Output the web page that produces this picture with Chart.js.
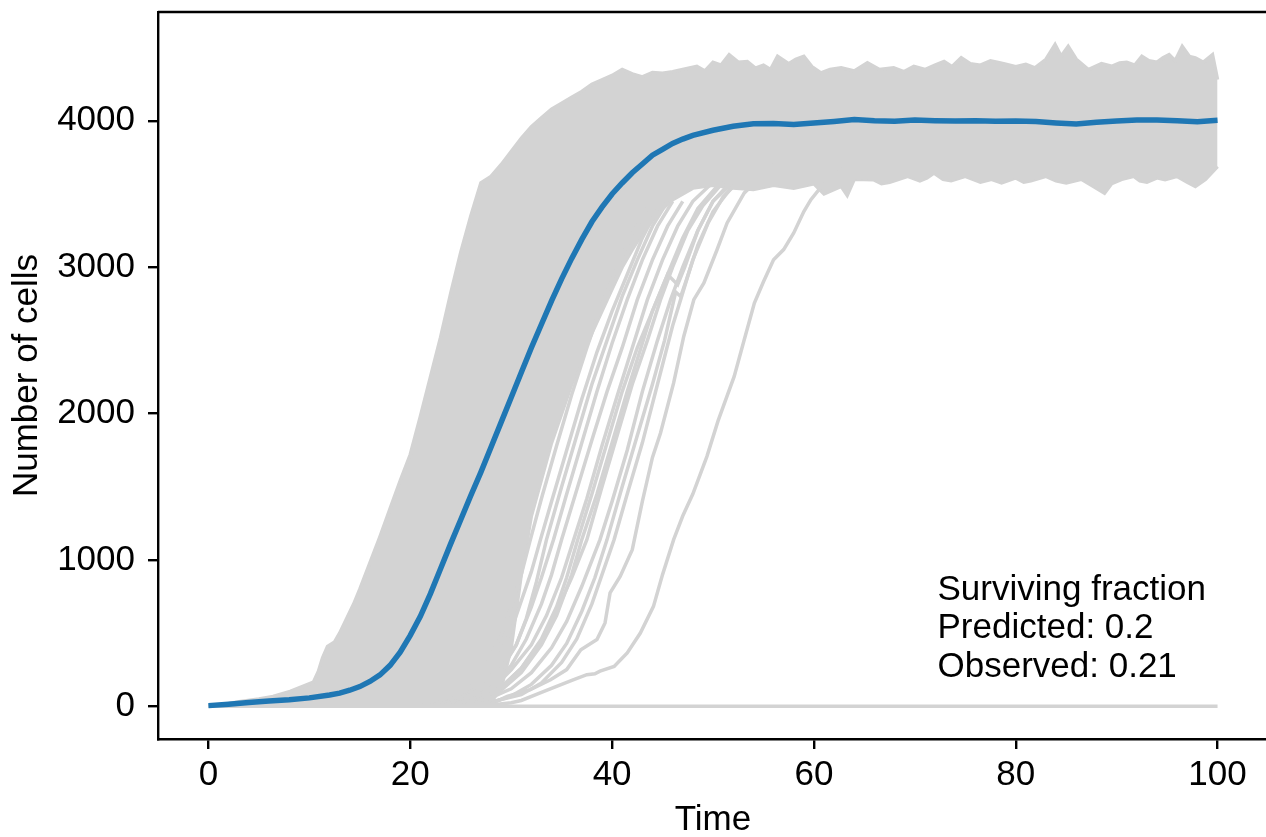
<!DOCTYPE html>
<html>
<head>
<meta charset="utf-8">
<script src="https://cdn.jsdelivr.net/npm/chart.js@4.4.1/dist/chart.umd.min.js"></script>
<style>
  html, body { margin: 0; padding: 0; background: #fff; overflow: hidden; }
  #wrap { position: absolute; left: 0; top: 0; width: 1280px; height: 837px; }
</style>
</head>
<body>
<div id="wrap"><canvas id="chart"></canvas></div>
<script>
// Ticks
const xTicks = [0, 20, 40, 60, 80, 100];
const yTicks = [0, 1000, 2000, 3000, 4000];

// Mean of surviving runs (blue)
const meanT = [0, 2, 4, 6, 8, 10, 12, 13, 14, 15, 16, 17, 18, 19, 20, 21, 22, 23, 24, 25, 26, 27, 28, 29, 30,
  31, 32, 33, 34, 35, 36, 37, 38, 39, 40, 41, 42, 43, 44, 45, 46, 47, 48, 50, 52, 54, 56, 58, 60, 62, 64,
  66, 68, 70, 72, 74, 76, 78, 80, 82, 84, 86, 88, 90, 92, 94, 96, 98, 100];
const meanCells = [5, 15, 27, 36, 45, 58, 78, 90, 110, 135, 170, 215, 280, 370, 485, 615, 770, 940, 1110, 1275, 1440, 1600, 1770, 1940, 2110,
  2280, 2450, 2610, 2770, 2920, 3060, 3190, 3310, 3410, 3500, 3575, 3645, 3705, 3765, 3805, 3845, 3875, 3900, 3935, 3962, 3980, 3982, 3975, 3985, 3995, 4008,
  4000, 3996, 4005, 4000, 3998, 4000, 3996, 3998, 3995, 3985, 3978, 3990, 3998, 4005, 4006, 4000, 3994, 4003];

// Dense bundle of runs: upper edge and lower/right edge
const bundleTop = [[0,3],[2,20],[3.2,34],[5,50],[6.4,68],[8.1,102],[10.4,165],[10.9,240],[11.3,330],[11.8,410],[12.5,440],[13,500],
  [14.4,700],[15,800],[16,980],[17,1160],[18,1350],[19,1540],[20,1720],[21,1980],[22,2250],[23,2520],[24,2820],[25,3100],
  [26,3350],[27,3575],[28,3620],[29,3700],[30,3790],[31,3880],[32,3960],[33,4020],[34,4080],[35,4120],[36,4160],[37,4200],
  [38,4250],[39,4280],[40,4310],[41,4350],[42,4320],[43,4300],[44,4330],[45,4325],[46,4335],[47,4350],[48.4,4372],[49.2,4340],[50,4400],
  [50.8,4380],[51.6,4451],[52.5,4400],[53.4,4405],[54.2,4360],[55,4380],[55.7,4350],[56.4,4440],[57.5,4390],[58.2,4420],[59,4440],[59.8,4370],[60.7,4327],
  [61.6,4350],[62.7,4362],[64,4340],[65.3,4396],[66.5,4350],[67.9,4362],[68.9,4335],[69.9,4372],[71,4350],[72,4380],[72.9,4405],[73.7,4370],[74.6,4430],
  [75.5,4390],[76.5,4380],[77.5,4410],[78.6,4394],[80,4370],[81,4385],[81.9,4362],[83,4420],[83.9,4520],[84.5,4440],[85.2,4508],[86,4420],
  [87.2,4349],[88.5,4390],[89.5,4372],[90.3,4395],[91,4400],[91.8,4380],[92.5,4440],[93.2,4410],[94,4400],[94.6,4430],[95.2,4451],[95.8,4410],
  [96.5,4508],[97.2,4440],[97.8,4430],[98.6,4400],[99.5,4451],[100,4281]];
const bundleBottom = [[0,0],[24,0],[26,8],[28,30],[29,120],[30,400],[31,900],[32,1300],[33,1550],[34,1800],[35,2000],
  [36,2200],[37,2380],[38,2550],[39,2700],[40,2850],[41,3000],[42,3120],[43,3230],[44,3320],[45,3400],[46,3460],[47,3500],
  [48,3540],[50,3560],[52,3540],[54,3530],[56,3560],[58,3540],[60,3570],[61,3500],[62.7,3552],[63.3,3490],[64,3600],
  [65.9,3597],[66.7,3570],[67.5,3580],[68.4,3600],[69.3,3620],[70.5,3590],[71.2,3610],[71.9,3643],[72.8,3600],[73.6,3590],[75,3620],[76.5,3580],
  [77.6,3600],[78.6,3575],[80,3610],[80.8,3580],[81.5,3590],[83,3620],[84,3590],[85,3575],[86.5,3600],[87.5,3560],[88.8,3506],[89.5,3570],
  [90.5,3600],[91.7,3620],[92.3,3590],[93,3580],[94,3610],[94.8,3597],[96,3620],[97,3580],[97.8,3552],[98.8,3600],[100,3688]];

// Extinct runs sit on zero
const extinctRun = [[0,0],[100,0]];

// Late runs that stand apart from the bundle
const lateRun1 = [[0,2],[20,4],[26,6],[28,10],[30,25],[31,40],[33,95],[34.5,137],[36.2,182],[37.5,216],[38.3,222],[38.8,240],
  [40.2,273],[41.5,365],[42.8,501],[44.1,683],[45,900],[46.1,1139],[47,1300],[48,1450],[49.4,1708],[50.5,1950],[52.1,2254],
  [53,2480],[54.1,2755],[55,2900],[56,3051],[57,3120],[58,3234],[59,3380],[59.7,3461],[60.5,3529],[61.5,3600],[63,3680]];
const lateRun2 = [[24,2],[26,3],[28,15],[29.6,68],[31.9,114],[33.9,182],[35.5,251],[36.9,387],[38.5,456],[39.3,570],
  [39.8,775],[40.8,888],[42,1070],[43,1400],[44,1700],[44.8,1867],[46.1,2209],[47.1,2527],[48.1,2778],[49.1,2892],
  [50.4,3119],[51.4,3302],[53.1,3507],[54.5,3600],[56,3700]];
const lateRun3 = [[25,5],[28,30],[31,80],[33,160],[35,300],[36.5,460],[38,700],[39,900],[40.2,1139],[41.5,1450],[43,1800],
  [44.5,2200],[46,2600],[46.8,2780],[48,3050],[49.5,3300],[51,3480],[53,3620]];
const lateRun4 = [[24,5],[27,30],[30,120],[32,230],[34,400],[35.5,580],[37,820],[38.8,1139],[40,1400],[41.5,1750],[43,2150],
  [44.5,2500],[45.8,2778],[47,3000],[48.5,3250],[50,3450],[52,3600]];
const lateRun5 = [[24,8],[27,50],[29,130],[31,260],[33,450],[34.5,650],[36,880],[37.5,1139],[39,1500],[40.5,1850],[42,2200],
  [43.5,2500],[44.8,2778],[46,3000],[47.5,3250],[49,3420],[51,3580]];
const lateRun6 = [[24,5],[27,40],[29,110],[31,230],[33,420],[34.5,620],[36,900],[37,1139],[38.5,1450],[40,1800],[41.5,2150],
  [43,2480],[44,2700],[45.5,2950],[47,3200],[48.5,3400],[50.5,3560]];
const lateRun7 = [[23,6],[26,40],[28,110],[30,250],[32,420],[33.5,620],[35,880],[36.2,1139],[37.5,1420],[39,1780],[40.5,2120],
  [42,2450],[43.5,2778],[45,3050],[46.5,3280],[48,3450],[50,3580]];
const lateRun8 = [[23,5],[26,45],[28,130],[30,280],[31.5,460],[33,700],[34,900],[35,1139],[36.5,1480],[38,1820],[39.5,2150],
  [41,2450],[42.5,2778],[44,3050],[45.5,3280],[47,3450]];
const lateRun9 = [[22,6],[25,40],[27,120],[29,260],[30.5,420],[32,680],[33,880],[34.2,1139],[35.5,1450],[37,1800],[38.5,2150],
  [40,2480],[41.5,2778],[43,3050],[44.5,3280],[46,3450]];
const lateRun10 = [[22,5],[25,50],[27,150],[28.5,300],[30,520],[31,720],[32,920],[32.9,1139],[34,1400],[35.5,1750],[37,2100],
  [38.5,2420],[40,2700],[41.5,2950],[43,3200],[44.5,3400]];
const lateRun11 = [[21,5],[24,40],[26,130],[27.5,280],[29,480],[30,680],[31,900],[31.9,1139],[33,1420],[34.5,1780],[36,2130],
  [37.5,2450],[39,2750],[40.5,3000],[42,3230],[43.5,3400]];
const lateRun12 = [[22,4],[25,35],[27,110],[29,250],[30.5,420],[31.5,600],[32.5,850],[33.5,1139],[35,1500],[36.5,1850],
  [38,2200],[39.5,2500],[41,2800],[42.5,3050],[44,3280],[45.5,3450]];
const lateRun13 = [[24,5],[27,45],[29,130],[31,260],[33,460],[34.5,680],[35.5,880],[36.6,1139],[38,1450],[39.5,1800],
  [41,2150],[42.5,2450],[44,2700],[45.5,2950],[46.5,2880],[47.2,3000],[48.5,3250],[50,3450],[52,3580]];
const lateRun14 = [[25,4],[28,25],[30,70],[32,150],[34,280],[35.5,430],[37,650],[38.3,880],[39.5,1139],[41,1500],[42.5,1850],
  [44,2200],[45.2,2500],[46.3,2830],[46.8,2800],[47.3,2900],[48.5,3150],[50,3380],[52,3560]];

const lateRuns = [lateRun1, lateRun2, lateRun3, lateRun4, lateRun5, lateRun6, lateRun7, lateRun8, lateRun9, lateRun10,
  lateRun11, lateRun12, lateRun13, lateRun14];

// Annotation
const noteLines = ["Surviving fraction", "Predicted: 0.2", "Observed: 0.21"];
const noteT = 72.25;
const noteCells = 203;

const GREY = "#d3d3d3";
const BLUE = "#1f77b4";
const FONT = '"Liberation Sans", Arial, Helvetica, sans-serif';
const FS = 35;

const toXY = (arr) => arr.map(([t, v]) => ({ x: t, y: v }));

function greyLine(points, extra) {
  return Object.assign({
    data: toXY(points),
    borderColor: GREY,
    backgroundColor: GREY,
    borderWidth: 3.5,
    pointRadius: 0,
    tension: 0,
    fill: false,
    order: 2,
  }, extra || {});
}

const datasets = [
  greyLine(bundleTop, { fill: "+1", order: 3 }),
  greyLine(bundleBottom, { order: 3 }),
  greyLine(extinctRun),
  ...lateRuns.map((r) => greyLine(r)),
  {
    data: meanT.map((t, i) => ({ x: t, y: meanCells[i] })),
    borderColor: BLUE,
    borderWidth: 5.5,
    pointRadius: 0,
    tension: 0,
    fill: false,
    order: 0,
  },
];

// Top/right frame lines and the text block
const framePlugin = {
  id: "frame",
  afterDraw(chart) {
    const { ctx, chartArea: a, scales } = chart;
    ctx.save();
    ctx.strokeStyle = "#000";
    ctx.lineWidth = 2.4;
    ctx.beginPath();
    ctx.moveTo(a.left, a.top);
    ctx.lineTo(a.right, a.top);
    ctx.lineTo(a.right, a.bottom);
    ctx.stroke();

    ctx.fillStyle = "#000";
    ctx.font = `${FS}px ${FONT}`;
    ctx.textAlign = "left";
    ctx.textBaseline = "alphabetic";
    const x = scales.x.getPixelForValue(noteT);
    const yLast = scales.y.getPixelForValue(noteCells);
    const step = 38.5;
    noteLines.forEach((line, i) => {
      ctx.fillText(line, x, yLast - (noteLines.length - 1 - i) * step);
    });
    ctx.restore();
  },
};

new Chart(document.getElementById("chart"), {
  type: "line",
  data: { datasets },
  options: {
    responsive: true,
    maintainAspectRatio: false,
    animation: false,
    devicePixelRatio: 1,
    parsing: false,
    layout: { padding: { top: 12, right: 12, left: 0, bottom: 0 } },
    plugins: { legend: { display: false }, tooltip: { enabled: false }, filler: { propagate: false } },
    scales: {
      x: {
        type: "linear",
        min: -5,
        max: 105,
        afterBuildTicks: (s) => { s.ticks = xTicks.map((v) => ({ value: v })); },
        afterFit: (s) => { s.height = 98; s.paddingLeft = 0; s.paddingRight = 0; },
        grid: { drawOnChartArea: false, drawTicks: true, tickLength: 10, color: "#000", lineWidth: 2.4 },
        border: { display: true, color: "#000", width: 2.4 },
        ticks: { color: "#000", padding: 5, maxRotation: 0, font: { family: FONT, size: FS } },
        title: { display: true, text: "Time", color: "#000", padding: { top: 0, bottom: -4 }, font: { family: FONT, size: FS } },
      },
      y: {
        type: "linear",
        min: -223,
        max: 4743,
        afterBuildTicks: (s) => { s.ticks = yTicks.map((v) => ({ value: v })); },
        afterFit: (s) => { s.width = 158; s.paddingTop = 0; s.paddingBottom = 0; },
        grid: { drawOnChartArea: false, drawTicks: true, tickLength: 10, color: "#000", lineWidth: 2.4 },
        border: { display: true, color: "#000", width: 2.4 },
        ticks: { color: "#000", padding: 13, font: { family: FONT, size: FS }, callback: (v) => String(v) },
        title: { display: true, text: "Number of cells", color: "#000", padding: { top: 6, bottom: 0 }, font: { family: FONT, size: FS } },
      },
    },
  },
  plugins: [framePlugin],
});
</script>
</body>
</html>
